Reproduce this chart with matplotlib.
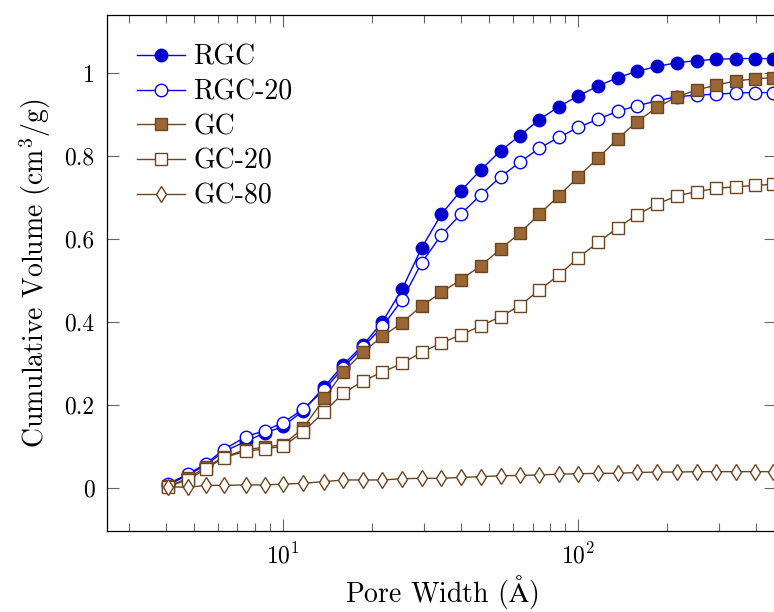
import matplotlib
matplotlib.use("Agg")
import matplotlib.pyplot as plt
import numpy as np

plt.rcParams['font.family'] = 'serif'
plt.rcParams['font.serif'] = ['cmr10']
plt.rcParams['mathtext.fontset'] = 'cm'
plt.rcParams['axes.unicode_minus'] = False
plt.rcParams['axes.formatter.use_mathtext'] = True

# pore widths (angstrom), shared by all samples
width = [4.08, 4.76, 5.47, 6.29, 7.46, 8.67, 10.0, 11.7, 13.8, 16.0,
         18.7, 21.7, 25.3, 29.5, 34.4, 40.0, 46.7, 54.6, 63.4, 73.8,
         86.0, 100.0, 117.0, 136.0, 158.0, 185.0, 216.0, 252.0, 293.0, 342.0,
         397.0, 458.0]

rgc = [0.007, 0.031, 0.055, 0.087, 0.112, 0.132, 0.148, 0.186, 0.244, 0.297,
       0.345, 0.400, 0.479, 0.579, 0.660, 0.716, 0.766, 0.813, 0.849, 0.888,
       0.919, 0.945, 0.969, 0.989, 1.004, 1.016, 1.025, 1.030, 1.033, 1.035,
       1.035, 1.035]
rgc20 = [0.010, 0.033, 0.058, 0.092, 0.123, 0.138, 0.157, 0.190, 0.237, 0.290,
         0.340, 0.389, 0.453, 0.543, 0.610, 0.660, 0.706, 0.750, 0.785, 0.819,
         0.845, 0.869, 0.889, 0.908, 0.921, 0.933, 0.943, 0.947, 0.949, 0.952,
         0.953, 0.953]
gc = [0.004, 0.023, 0.050, 0.074, 0.092, 0.098, 0.104, 0.144, 0.216, 0.280,
      0.328, 0.365, 0.398, 0.439, 0.471, 0.502, 0.535, 0.576, 0.614, 0.660,
      0.704, 0.750, 0.796, 0.841, 0.883, 0.917, 0.943, 0.959, 0.971, 0.981,
      0.986, 0.989]
gc20 = [0.003, 0.020, 0.045, 0.073, 0.088, 0.094, 0.100, 0.135, 0.184, 0.228,
        0.258, 0.279, 0.300, 0.327, 0.349, 0.369, 0.390, 0.413, 0.439, 0.477,
        0.513, 0.555, 0.592, 0.627, 0.658, 0.684, 0.704, 0.714, 0.722, 0.726,
        0.729, 0.732]
gc80 = [0.003, 0.001, 0.006, 0.006, 0.007, 0.007, 0.009, 0.011, 0.015, 0.019,
        0.019, 0.019, 0.022, 0.023, 0.023, 0.025, 0.027, 0.029, 0.030, 0.031,
        0.033, 0.034, 0.035, 0.035, 0.037, 0.038, 0.038, 0.039, 0.039, 0.039,
        0.039, 0.039]

blue = '#0000ff'
dblue = '#0000cc'
brown = '#9a6633'
dbrown = '#6b4522'

fig = plt.figure(figsize=(7.74, 6.12), dpi=100)
ax = fig.add_axes([0.1382, 0.1324, 0.8644, 0.8431])

ax.plot(width, rgc, color=blue, lw=1.0, marker='o', ms=9, mfc=dblue, mec=dblue, label='RGC')
ax.plot(width, rgc20, color=blue, lw=1.0, marker='o', ms=9, mfc='white', mec=blue, mew=1.0, label='RGC-20')
ax.plot(width, gc, color=dbrown, lw=1.0, marker='s', ms=8.5, mfc=brown, mec=dbrown, mew=1.0, label='GC')
ax.plot(width, gc20, color=dbrown, lw=1.0, marker='s', ms=8.5, mfc='white', mec=dbrown, mew=1.0, label='GC-20')
ax.plot(width, gc80, color=dbrown, lw=1.0, marker='d', ms=8, mfc='white', mec=dbrown, mew=1.0, label='GC-80')

ax.set_xscale('log')
ax.set_xlim(2.53, 468)
ax.set_ylim(-0.104, 1.14)
ax.set_yticks([0, 0.2, 0.4, 0.6, 0.8, 1])
ax.set_yticklabels(['0', '0.2', '0.4', '0.6', '0.8', '1'])

ax.tick_params(which='both', direction='in', top=True, right=True, color='#666666', width=0.8, labelsize=17)
ax.tick_params(which='major', length=8.6, pad=9)
ax.tick_params(which='minor', length=5.8)
for s in ax.spines.values():
    s.set_linewidth(0.9)

ax.set_xlabel(r'Pore Width ($\mathrm{\AA}$)', fontsize=20, labelpad=3)
ax.set_ylabel(r'Cumulative Volume (cm$^3$/g)', fontsize=20, labelpad=8)

ax.legend(loc='upper left', frameon=False, fontsize=20, handlelength=1.73,
          handletextpad=0.3, labelspacing=0.3, borderpad=0, borderaxespad=0,
          bbox_to_anchor=(0.0448, 0.943))

fig.savefig('out.png', dpi=100)
